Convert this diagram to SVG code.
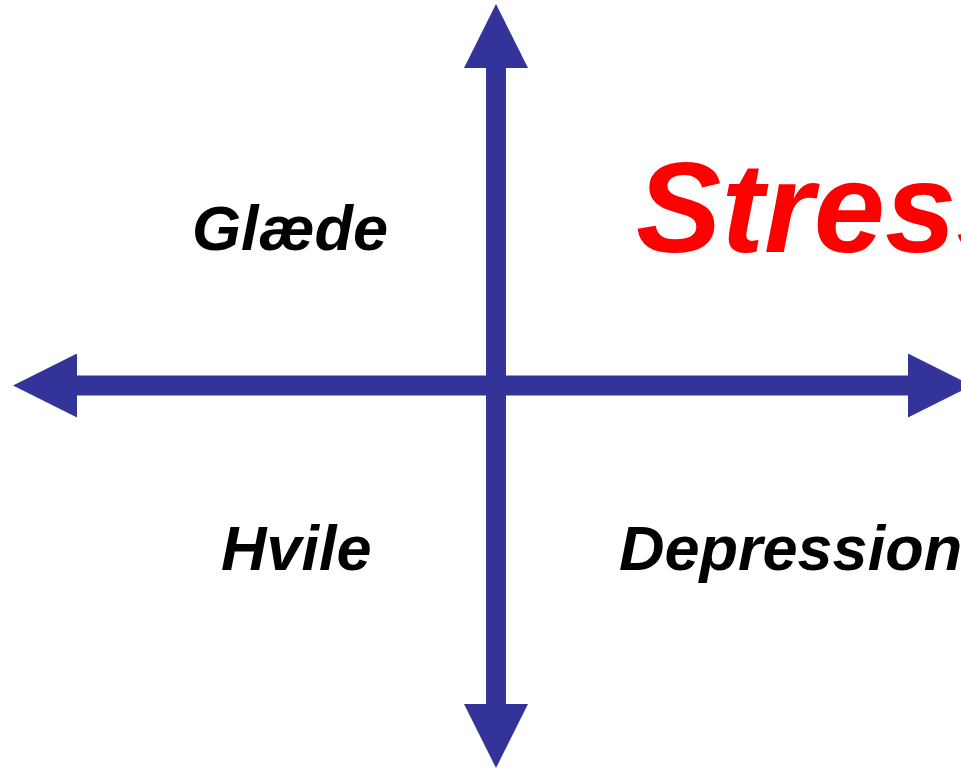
<svg xmlns="http://www.w3.org/2000/svg" width="961" height="769" viewBox="0 0 961 769">
<style>
.axis{stroke:#333399;stroke-width:20;fill:none;marker-start:url(#head);marker-end:url(#head)}
.lbl{font-family:"Liberation Sans",Arial,sans-serif;font-weight:bold;font-style:italic;font-size:63px;fill:#000}
.big{font-family:"Liberation Sans",Arial,sans-serif;font-weight:bold;font-style:italic;font-size:128px;fill:#FF0000}
</style>
<defs>
<marker id="head" markerUnits="userSpaceOnUse" markerWidth="64" markerHeight="64" viewBox="0 0 64 64" refX="0" refY="32" orient="auto-start-reverse">
<path d="M0,0 L64,32 L0,64 Z" fill="#333399"/>
</marker>
</defs>
<rect width="961" height="769" fill="#fff"/>
<g id="connectors">
<line class="axis" x1="496" y1="68" x2="496" y2="704"/>
<line class="axis" x1="77" y1="385.5" x2="908" y2="385.5"/>
</g>
<g id="glaede"><text class="lbl" x="192" y="250">Glæde</text></g>
<g id="stress"><text class="big" x="636" y="252">Stress</text></g>
<g id="hvile"><text class="lbl" x="221" y="570">Hvile</text></g>
<g id="depression"><text class="lbl" x="619" y="570">Depression</text></g>
</svg>
